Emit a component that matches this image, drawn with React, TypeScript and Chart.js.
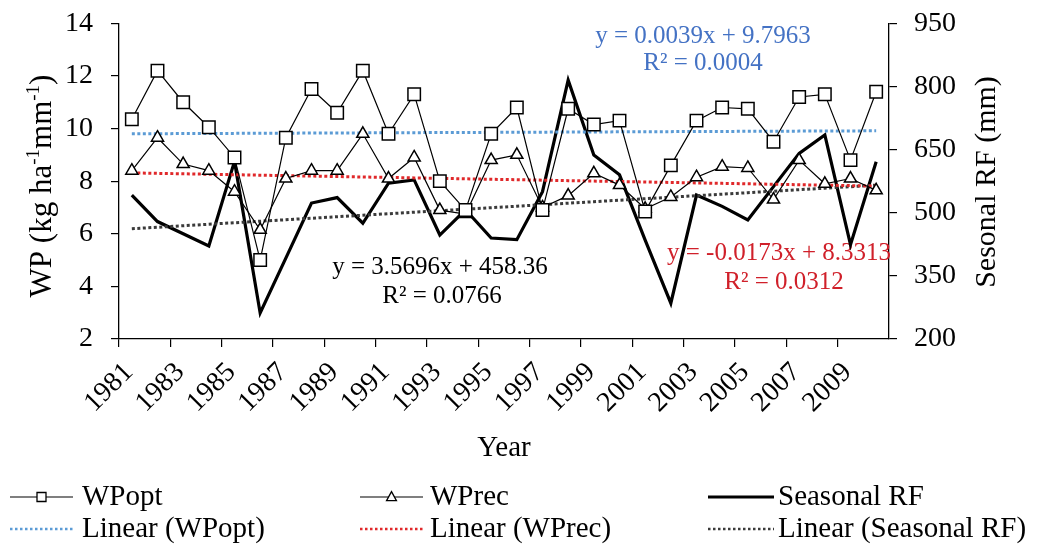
import { useEffect, useRef } from 'react';
import { Chart, registerables } from 'chart.js';

Chart.register(...registerables);

// ---- data ----
const YEARS = [
  '1981', '1982', '1983', '1984', '1985', '1986', '1987', '1988', '1989', '1990',
  '1991', '1992', '1993', '1994', '1995', '1996', '1997', '1998', '1999', '2000',
  '2001', '2002', '2003', '2004', '2005', '2006', '2007', '2008', '2009', '2010',
];

// water productivity, kg ha-1 mm-1
const WP_OPT = [
  10.35, 12.2, 11.0, 10.05, 8.9, 5.0, 9.65, 11.5, 10.6, 12.2,
  9.8, 11.3, 8.0, 6.9, 9.8, 10.8, 6.9, 10.75, 10.15, 10.3,
  6.85, 8.6, 10.3, 10.8, 10.75, 9.5, 11.2, 11.3, 8.8, 11.4,
];
const WP_REC = [
  8.4, 9.65, 8.65, 8.4, 7.6, 6.15, 8.1, 8.4, 8.4, 9.8,
  8.1, 8.9, 6.9, 6.75, 8.8, 9.0, 7.0, 7.45, 8.3, 7.85,
  6.95, 7.4, 8.15, 8.55, 8.5, 7.3, 8.8, 7.9, 8.1, 7.65,
];
// seasonal rainfall, mm
const SEASONAL_RF = [
  542, 479, 450, 421, 622, 262, 392, 523, 536, 475,
  570, 578, 447, 507, 440, 436, 550, 815, 637, 590,
  435, 285, 542, 515, 483, 562, 641, 685, 424, 621,
];

// linear trend coefficients [slope, intercept], x = 1..30
const TREND_WPOPT = [0.0039, 9.7963];
const TREND_WPREC = [-0.0173, 8.3313];
const TREND_RF = [3.5696, 458.36];

const WP_TICKS = [2, 14, 2]; // min, max, step
const RF_TICKS = [200, 950, 150];

const FONT = "'Liberation Serif', 'Times New Roman', serif";
const BLUE_DOT = '#5B9BD5';
const RED_DOT = '#E0282A';
const GREY_DOT = '#3A3A3A';
const BLUE_TXT = '#4472C4';
const RED_TXT = '#D0202A';

const trend = (c: number[]) => YEARS.map((_, i) => +(c[0] * (i + 1) + c[1]).toFixed(4));

function drawMarker(ctx: CanvasRenderingContext2D, kind: string, x: number, y: number, s: number) {
  ctx.save();
  ctx.fillStyle = '#fff';
  ctx.strokeStyle = '#000';
  ctx.lineWidth = 1.3;
  ctx.beginPath();
  if (kind === 'rect') {
    ctx.rect(x - s / 2, y - s / 2, s, s);
  } else {
    ctx.moveTo(x, y - s * 0.6);
    ctx.lineTo(x + s * 0.55, y + s * 0.4);
    ctx.lineTo(x - s * 0.55, y + s * 0.4);
    ctx.closePath();
  }
  ctx.fill();
  ctx.stroke();
  ctx.restore();
}

function drawSupText(
  ctx: CanvasRenderingContext2D,
  parts: { t: string; sup?: boolean }[],
  cx: number,
  cy: number,
  size: number,
) {
  const big = `${size}px ${FONT}`;
  const small = `${Math.round(size * 0.62)}px ${FONT}`;
  let total = 0;
  for (const p of parts) {
    ctx.font = p.sup ? small : big;
    total += ctx.measureText(p.t).width;
  }
  let x = cx - total / 2;
  ctx.textAlign = 'left';
  ctx.textBaseline = 'alphabetic';
  const base = cy + size * 0.33;
  for (const p of parts) {
    ctx.font = p.sup ? small : big;
    ctx.fillText(p.t, x, p.sup ? base - size * 0.38 : base);
    x += ctx.measureText(p.t).width;
  }
}

const decorations = {
  id: 'decorations',
  beforeDatasetsDraw(chart: Chart) {
    const ctx = chart.ctx;
    ctx.save();
    ctx.textAlign = 'center';
    ctx.textBaseline = 'middle';
    ctx.font = `25px ${FONT}`;
    ctx.fillStyle = BLUE_TXT;
    ctx.fillText('y = 0.0039x + 9.7963', 703, 36);
    ctx.fillText('R² = 0.0004', 703, 63);
    ctx.fillStyle = '#000';
    ctx.fillText('y = 3.5696x + 458.36', 440, 267);
    ctx.fillText('R² = 0.0766', 442, 296);
    ctx.fillStyle = RED_TXT;
    ctx.fillText('y = -0.0173x + 8.3313', 779, 253);
    ctx.fillText('R² = 0.0312', 784, 282);
    ctx.restore();
  },
  afterDraw(chart: Chart) {
    const ctx = chart.ctx;
    ctx.save();
    ctx.fillStyle = '#000';

    // axis titles
    ctx.font = `29px ${FONT}`;
    ctx.textAlign = 'center';
    ctx.textBaseline = 'middle';
    ctx.fillText('Year', 504, 448);

    ctx.save();
    ctx.translate(41, 186);
    ctx.rotate(-Math.PI / 2);
    drawSupText(
      ctx,
      [{ t: 'WP (kg ha' }, { t: '-1', sup: true }, { t: 'mm' }, { t: '-1', sup: true }, { t: ')' }],
      0,
      0,
      31,
    );
    ctx.restore();

    ctx.save();
    ctx.translate(987, 182);
    ctx.rotate(-Math.PI / 2);
    ctx.font = `30px ${FONT}`;
    ctx.textAlign = 'center';
    ctx.textBaseline = 'middle';
    ctx.fillText('Sesonal RF (mm)', 0, 0);
    ctx.restore();

    // legend
    const rows = [497, 529];
    const cols = [
      { x0: 10, x1: 73, tx: 82 },
      { x0: 360, x1: 423, tx: 430 },
      { x0: 708, x1: 774, tx: 778 },
    ];
    const items = [
      { label: 'WPopt', row: 0, col: 0, kind: 'rect' },
      { label: 'WPrec', row: 0, col: 1, kind: 'tri' },
      { label: 'Seasonal RF', row: 0, col: 2, kind: 'thick' },
      { label: 'Linear (WPopt)', row: 1, col: 0, kind: 'dot', color: BLUE_DOT },
      { label: 'Linear (WPrec)', row: 1, col: 1, kind: 'dot', color: RED_DOT },
      { label: 'Linear (Seasonal RF)', row: 1, col: 2, kind: 'dot', color: GREY_DOT },
    ];
    for (const it of items) {
      const c = cols[it.col];
      const y = rows[it.row];
      ctx.save();
      ctx.beginPath();
      if (it.kind === 'dot') {
        ctx.strokeStyle = it.color as string;
        ctx.lineWidth = 2.5;
        ctx.setLineDash([2.5, 2.5]);
      } else {
        ctx.strokeStyle = '#000';
        ctx.lineWidth = it.kind === 'thick' ? 3 : 1.2;
      }
      ctx.moveTo(c.x0, y);
      ctx.lineTo(c.x1, y);
      ctx.stroke();
      ctx.restore();
      if (it.kind === 'rect') drawMarker(ctx, 'rect', (c.x0 + c.x1) / 2, y, 9);
      if (it.kind === 'tri') drawMarker(ctx, 'tri', (c.x0 + c.x1) / 2, y, 9);
      ctx.fillStyle = '#000';
      ctx.font = `29px ${FONT}`;
      ctx.textAlign = 'left';
      ctx.textBaseline = 'middle';
      ctx.fillText(it.label, c.tx, y);
    }
    ctx.restore();
  },
};

export default function App() {
  const canvasRef = useRef<HTMLCanvasElement | null>(null);

  useEffect(() => {
    const canvas = canvasRef.current;
    if (!canvas) return;
    const tickFont = { family: FONT, size: 28 };
    const plotTop = 23.3;

    const chart = new Chart(canvas, {
      type: 'line',
      data: {
        labels: YEARS,
        datasets: [
          {
            label: 'WPopt',
            data: WP_OPT,
            yAxisID: 'y',
            borderColor: '#000',
            borderWidth: 1.2,
            pointStyle: 'rect',
            pointRadius: 8.8,
            pointBackgroundColor: '#fff',
            pointBorderColor: '#000',
            pointBorderWidth: 1.5,
            tension: 0,
            order: 0,
          },
          {
            label: 'WPrec',
            data: WP_REC,
            yAxisID: 'y',
            borderColor: '#000',
            borderWidth: 1.2,
            pointStyle: 'triangle',
            pointRadius: 7,
            pointBackgroundColor: '#fff',
            pointBorderColor: '#000',
            pointBorderWidth: 1.5,
            tension: 0,
            order: 1,
          },
          {
            label: 'Linear (WPopt)',
            data: trend(TREND_WPOPT),
            yAxisID: 'y',
            borderColor: BLUE_DOT,
            borderWidth: 3,
            borderDash: [3, 2.5],
            pointRadius: 0,
            order: 2,
          },
          {
            label: 'Linear (WPrec)',
            data: trend(TREND_WPREC),
            yAxisID: 'y',
            borderColor: RED_DOT,
            borderWidth: 3,
            borderDash: [3, 2.5],
            pointRadius: 0,
            order: 3,
          },
          {
            label: 'Linear (Seasonal RF)',
            data: trend(TREND_RF),
            yAxisID: 'y1',
            borderColor: GREY_DOT,
            borderWidth: 3,
            borderDash: [3, 2.5],
            pointRadius: 0,
            order: 4,
          },
          {
            label: 'Seasonal RF',
            data: SEASONAL_RF,
            yAxisID: 'y1',
            borderColor: '#000',
            borderWidth: 3.2,
            pointRadius: 0,
            tension: 0,
            order: 5,
          },
        ],
      },
      options: {
        responsive: false,
        animation: false,
        layout: { padding: 0 },
        plugins: {
          legend: { display: false },
          tooltip: { enabled: false },
        },
        scales: {
          x: {
            type: 'category',
            offset: true,
            grid: {
              offset: true,
              drawOnChartArea: false,
              tickLength: 8,
              lineWidth: 1.2,
              color: (c: any) => (c.index % 2 === 0 ? '#000' : 'rgba(0,0,0,0)'),
            },
            border: { color: '#000', width: 1.3 },
            ticks: {
              autoSkip: false,
              minRotation: 45,
              maxRotation: 45,
              padding: 9,
              labelOffset: -3,
              color: '#000',
              font: tickFont,
              callback: (_v: any, i: number) => (i % 2 === 0 ? YEARS[i] : ''),
            },
            afterFit: (s: any) => {
              s.height = 209;
            },
          },
          y: {
            position: 'left',
            min: WP_TICKS[0],
            max: WP_TICKS[1],
            grid: { drawOnChartArea: false, tickLength: 8, color: '#000', lineWidth: 1.2 },
            border: { color: '#000', width: 1.3 },
            ticks: { stepSize: WP_TICKS[2], padding: 18, color: '#000', font: tickFont },
            afterFit: (s: any) => {
              s.width = 119;
              s.paddingTop = plotTop;
            },
          },
          y1: {
            position: 'right',
            min: RF_TICKS[0],
            max: RF_TICKS[1],
            grid: { drawOnChartArea: false, tickLength: 8, color: '#000', lineWidth: 1.2 },
            border: { color: '#000', width: 1.3 },
            ticks: { stepSize: RF_TICKS[2], padding: 17, color: '#000', font: tickFont },
            afterFit: (s: any) => {
              s.width = 153;
              s.paddingTop = plotTop;
            },
          },
        },
      },
      plugins: [decorations],
    });
    return () => chart.destroy();
  }, []);

  return (
    <div style={{ position: 'fixed', left: 0, top: 0, width: 1042, height: 548, background: '#fff' }}>
      <canvas ref={canvasRef} width={1042} height={548} />
    </div>
  );
}
